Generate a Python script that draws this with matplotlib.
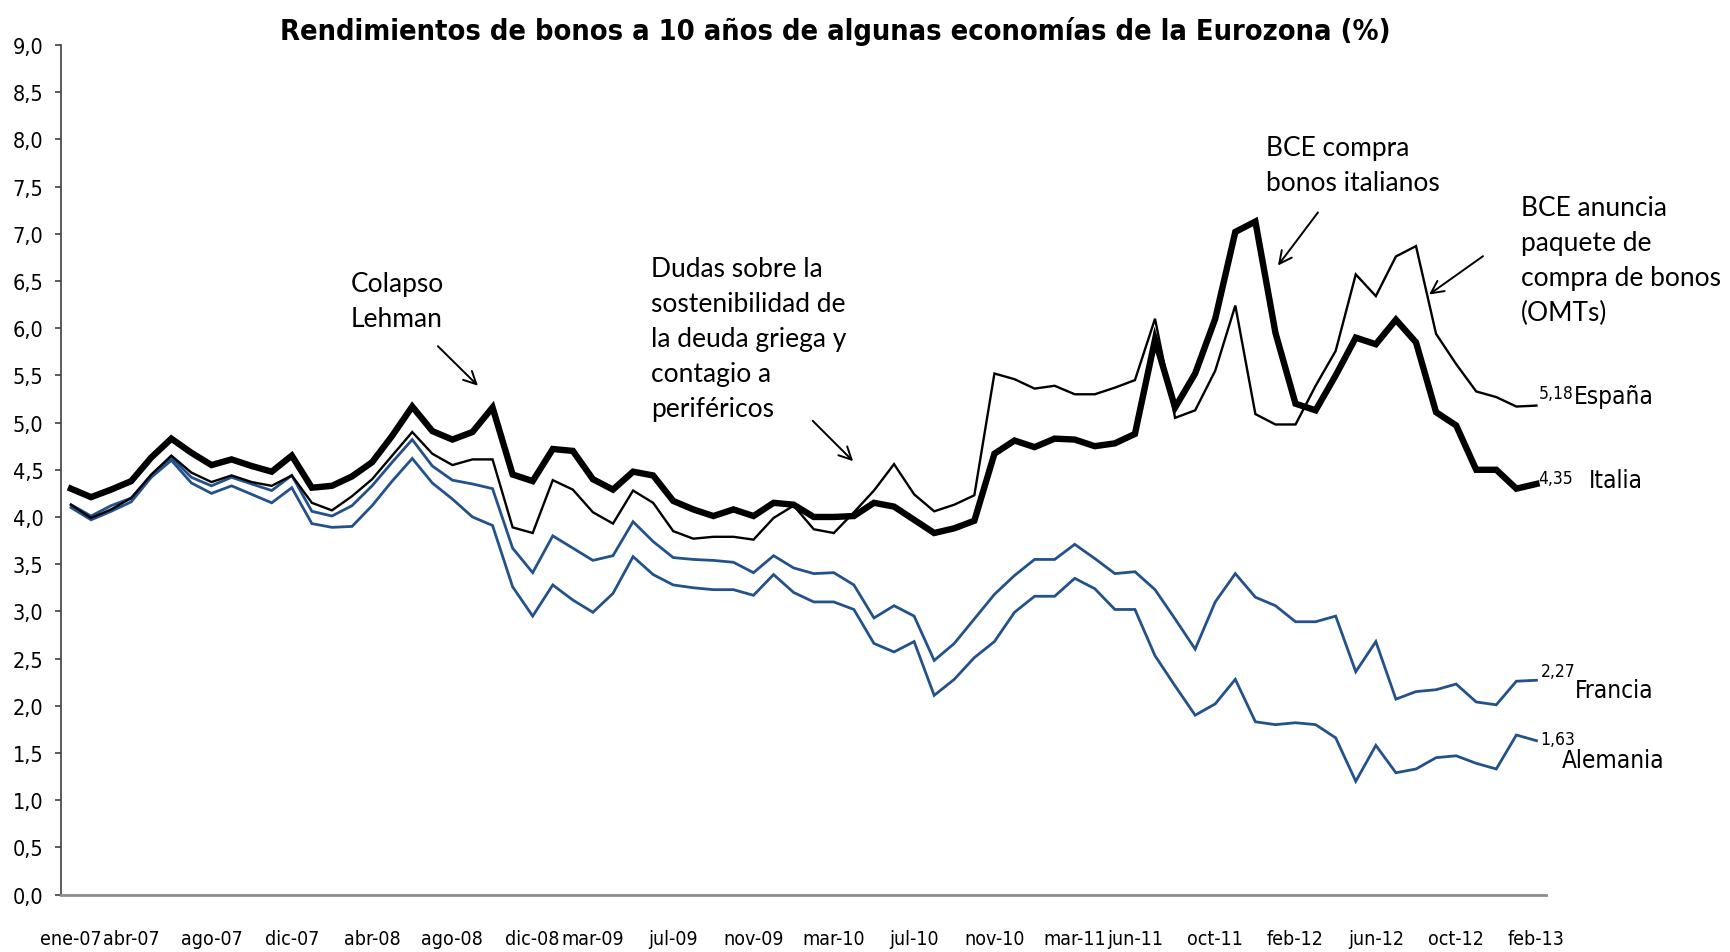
import os
import matplotlib
matplotlib.use("Agg")
import matplotlib.pyplot as plt
from matplotlib import font_manager
from matplotlib.font_manager import FontProperties
from matplotlib.ticker import FuncFormatter

# buscar una fuente estrecha (tipo Arial Narrow)
archivos = set(font_manager.findSystemFonts()) | {f.fname for f in font_manager.fontManager.ttflist}
def buscar(claves):
    for c in claves:
        for a in sorted(archivos):
            if os.path.basename(a).lower().replace('_', '').replace('-', '') == c:
                return a
    return None

f_reg = buscar(['liberationsansnarrowregular.ttf', 'dejavusanscondensed.ttf',
                'robotocondensedregular.ttf', 'opensanscondensedregular.ttf'])
f_bold = buscar(['liberationsansnarrowbold.ttf', 'dejavusanscondensedbold.ttf',
                 'robotocondensedbold.ttf', 'opensanscondensedbold.ttf'])
ESTRECHA = f_reg is not None

def fp(size, bold=False):
    if bold and f_bold:
        return FontProperties(fname=f_bold, size=size)
    if not bold and f_reg:
        return FontProperties(fname=f_reg, size=size)
    return FontProperties(family='Liberation Sans', size=size,
                          weight='bold' if bold else 'normal')

nombres = {f.name for f in font_manager.fontManager.ttflist}
TEXTO = 'Lato' if 'Lato' in nombres else 'DejaVu Sans'

# meses ene-07 ... feb-13
abrev = ['ene', 'feb', 'mar', 'abr', 'may', 'jun', 'jul', 'ago', 'sep', 'oct', 'nov', 'dic']
meses = [f"{abrev[m]}-{a:02d}" for a in range(7, 14) for m in range(12)][:74]

etiquetas_x = ['ene-07', 'abr-07', 'ago-07', 'dic-07', 'abr-08', 'ago-08', 'dic-08', 'mar-09',
               'jul-09', 'nov-09', 'mar-10', 'jul-10', 'nov-10', 'mar-11', 'jun-11', 'oct-11',
               'feb-12', 'jun-12', 'oct-12', 'feb-13']

espana = [4.13, 3.99, 4.08, 4.20, 4.45, 4.65, 4.47, 4.37, 4.44, 4.37, 4.33, 4.44,
          4.15, 4.07, 4.22, 4.40, 4.65, 4.90, 4.67, 4.55, 4.61, 4.61, 3.89, 3.83,
          4.39, 4.29, 4.05, 3.93, 4.28, 4.15, 3.85, 3.77, 3.79, 3.79, 3.76, 3.99,
          4.12, 3.87, 3.83, 4.05, 4.28, 4.56, 4.24, 4.06, 4.13, 4.23, 5.52, 5.46,
          5.36, 5.39, 5.30, 5.30, 5.37, 5.45, 6.10, 5.05, 5.13, 5.55, 6.24, 5.09,
          4.98, 4.98, 5.39, 5.76, 6.57, 6.34, 6.76, 6.87, 5.94, 5.62, 5.33, 5.27,
          5.17, 5.18]

italia = [4.30, 4.21, 4.29, 4.38, 4.63, 4.83, 4.68, 4.55, 4.61, 4.54, 4.48, 4.65,
          4.31, 4.33, 4.43, 4.58, 4.86, 5.17, 4.91, 4.82, 4.90, 5.16, 4.45, 4.38,
          4.72, 4.70, 4.40, 4.29, 4.48, 4.44, 4.17, 4.08, 4.01, 4.08, 4.01, 4.15,
          4.13, 4.00, 4.00, 4.01, 4.15, 4.11, 3.97, 3.83, 3.88, 3.96, 4.67, 4.81,
          4.74, 4.83, 4.82, 4.75, 4.78, 4.88, 5.88, 5.16, 5.52, 6.10, 7.02, 7.13,
          5.95, 5.20, 5.13, 5.50, 5.90, 5.83, 6.09, 5.85, 5.11, 4.97, 4.50, 4.50,
          4.30, 4.35]

francia = [4.13, 4.01, 4.12, 4.20, 4.44, 4.63, 4.42, 4.33, 4.42, 4.35, 4.28, 4.44,
           4.06, 4.01, 4.12, 4.33, 4.58, 4.82, 4.54, 4.39, 4.35, 4.30, 3.67, 3.41,
           3.80, 3.67, 3.54, 3.59, 3.95, 3.74, 3.57, 3.55, 3.54, 3.52, 3.41, 3.59,
           3.46, 3.40, 3.41, 3.28, 2.93, 3.06, 2.95, 2.48, 2.66, 2.92, 3.18, 3.38,
           3.55, 3.55, 3.71, 3.56, 3.40, 3.42, 3.23, 2.92, 2.60, 3.10, 3.40, 3.15,
           3.06, 2.89, 2.89, 2.95, 2.36, 2.68, 2.07, 2.15, 2.17, 2.23, 2.04, 2.01,
           2.26, 2.27]

alemania = [4.10, 3.97, 4.06, 4.16, 4.42, 4.60, 4.36, 4.25, 4.33, 4.24, 4.15, 4.31,
            3.93, 3.89, 3.90, 4.12, 4.38, 4.62, 4.36, 4.19, 4.00, 3.91, 3.26, 2.95,
            3.28, 3.12, 2.99, 3.19, 3.58, 3.39, 3.28, 3.25, 3.23, 3.23, 3.17, 3.39,
            3.20, 3.10, 3.10, 3.02, 2.66, 2.57, 2.68, 2.11, 2.28, 2.51, 2.68, 2.99,
            3.16, 3.16, 3.35, 3.24, 3.02, 3.02, 2.53, 2.21, 1.90, 2.02, 2.28, 1.83,
            1.80, 1.82, 1.80, 1.66, 1.20, 1.58, 1.29, 1.33, 1.45, 1.47, 1.39, 1.33,
            1.69, 1.63]

AZUL = '#23518A'
x = list(range(len(meses)))

# tamaños según la fuente encontrada
T_XTICK = 14 if ESTRECHA else 12.5
T_YTICK = 15.5 if ESTRECHA else 14
T_TIT = 20.8 if ESTRECHA else 19.5
T_NOM = 17.5 if ESTRECHA else 16
T_VAL = 12.5 if ESTRECHA else 11.5

fig = plt.figure(figsize=(17.31, 9.53), dpi=100)
ax = fig.add_axes([0.0352, 0.0603, 0.8582, 0.8914])

ax.plot(x, alemania, color=AZUL, lw=2.0, solid_joinstyle='miter')
ax.plot(x, francia, color=AZUL, lw=2.0, solid_joinstyle='miter')
ax.plot(x, espana, color='black', lw=1.7, solid_joinstyle='miter')
ax.plot(x, italia, color='black', lw=4.6, solid_joinstyle='miter')

ax.set_xlim(-0.5, len(meses) - 0.5)
ax.set_ylim(0, 9)
ax.set_yticks([i * 0.5 for i in range(19)])
ax.yaxis.set_major_formatter(FuncFormatter(lambda v, p: f"{v:.1f}".replace('.', ',')))
ax.set_xticks([meses.index(e) for e in etiquetas_x])
ax.set_xticklabels(etiquetas_x)

for s in ['top', 'right']:
    ax.spines[s].set_visible(False)
ax.spines['left'].set_color('#404040')
ax.spines['left'].set_linewidth(1.2)
ax.spines['bottom'].set_color('#8c8c8c')
ax.spines['bottom'].set_linewidth(2.0)
ax.tick_params(axis='y', length=4.5, width=1.2, color='#404040', pad=8)
ax.tick_params(axis='x', length=0, pad=25)
for t in ax.get_yticklabels():
    t.set_fontproperties(fp(T_YTICK))
for t in ax.get_xticklabels():
    t.set_fontproperties(fp(T_XTICK))

fig.text(835 / 1731, 1 - 32 / 953,
         'Rendimientos de bonos a 10 años de algunas economías de la Eurozona (%)',
         ha='center', va='center', fontproperties=fp(T_TIT, bold=True))

# anotaciones
flecha = dict(arrowstyle='->,head_length=0.9,head_width=0.45', color='black', lw=1.4)
ESP = 1.5
ax.text(13.94, 6.29, 'Colapso\nLehman', ha='left', va='center', fontsize=19,
        family=TEXTO, linespacing=ESP)
ax.annotate('', xy=(20.37, 5.37), xytext=(18.18, 5.83), arrowprops=flecha)

ax.text(28.88, 5.89, 'Dudas sobre la\nsostenibilidad de\nla deuda griega y\ncontagio a\nperiféricos',
        ha='left', va='center', fontsize=19, family=TEXTO, linespacing=ESP)
ax.annotate('', xy=(39.06, 4.57), xytext=(36.85, 5.04), arrowprops=flecha)

ax.text(59.51, 7.73, 'BCE compra\nbonos italianos', ha='left', va='center', fontsize=19,
        family=TEXTO, linespacing=ESP)
ax.annotate('', xy=(60.04, 6.64), xytext=(62.2, 7.25), arrowprops=flecha)

ax.text(72.21, 6.72, 'BCE anuncia\npaquete de\ncompra de bonos\n(OMTs)', ha='left', va='center',
        fontsize=19, family=TEXTO, linespacing=ESP, clip_on=False)
ax.annotate('', xy=(67.54, 6.34), xytext=(70.45, 6.78), arrowprops=flecha)

# etiquetas de series al final
ultimo = len(meses) - 1
series = [(espana, 'España', (1.5, 9), (27, 7)),
          (italia, 'Italia', (1.5, 4.5), (38, 3)),
          (francia, 'Francia', (3, 7), (28, -7)),
          (alemania, 'Alemania', (3, 1), (18, -14))]
for datos, nombre, off_v, off_n in series:
    v = datos[ultimo]
    ax.annotate(f"{v:.2f}".replace('.', ','), xy=(ultimo, v), xytext=off_v,
                textcoords='offset points', ha='left', va='center',
                fontproperties=fp(T_VAL), annotation_clip=False)
    ax.annotate(nombre, xy=(ultimo, v), xytext=off_n, textcoords='offset points',
                ha='left', va='center', fontproperties=fp(T_NOM), annotation_clip=False)

fig.savefig('out.png', dpi=100)
